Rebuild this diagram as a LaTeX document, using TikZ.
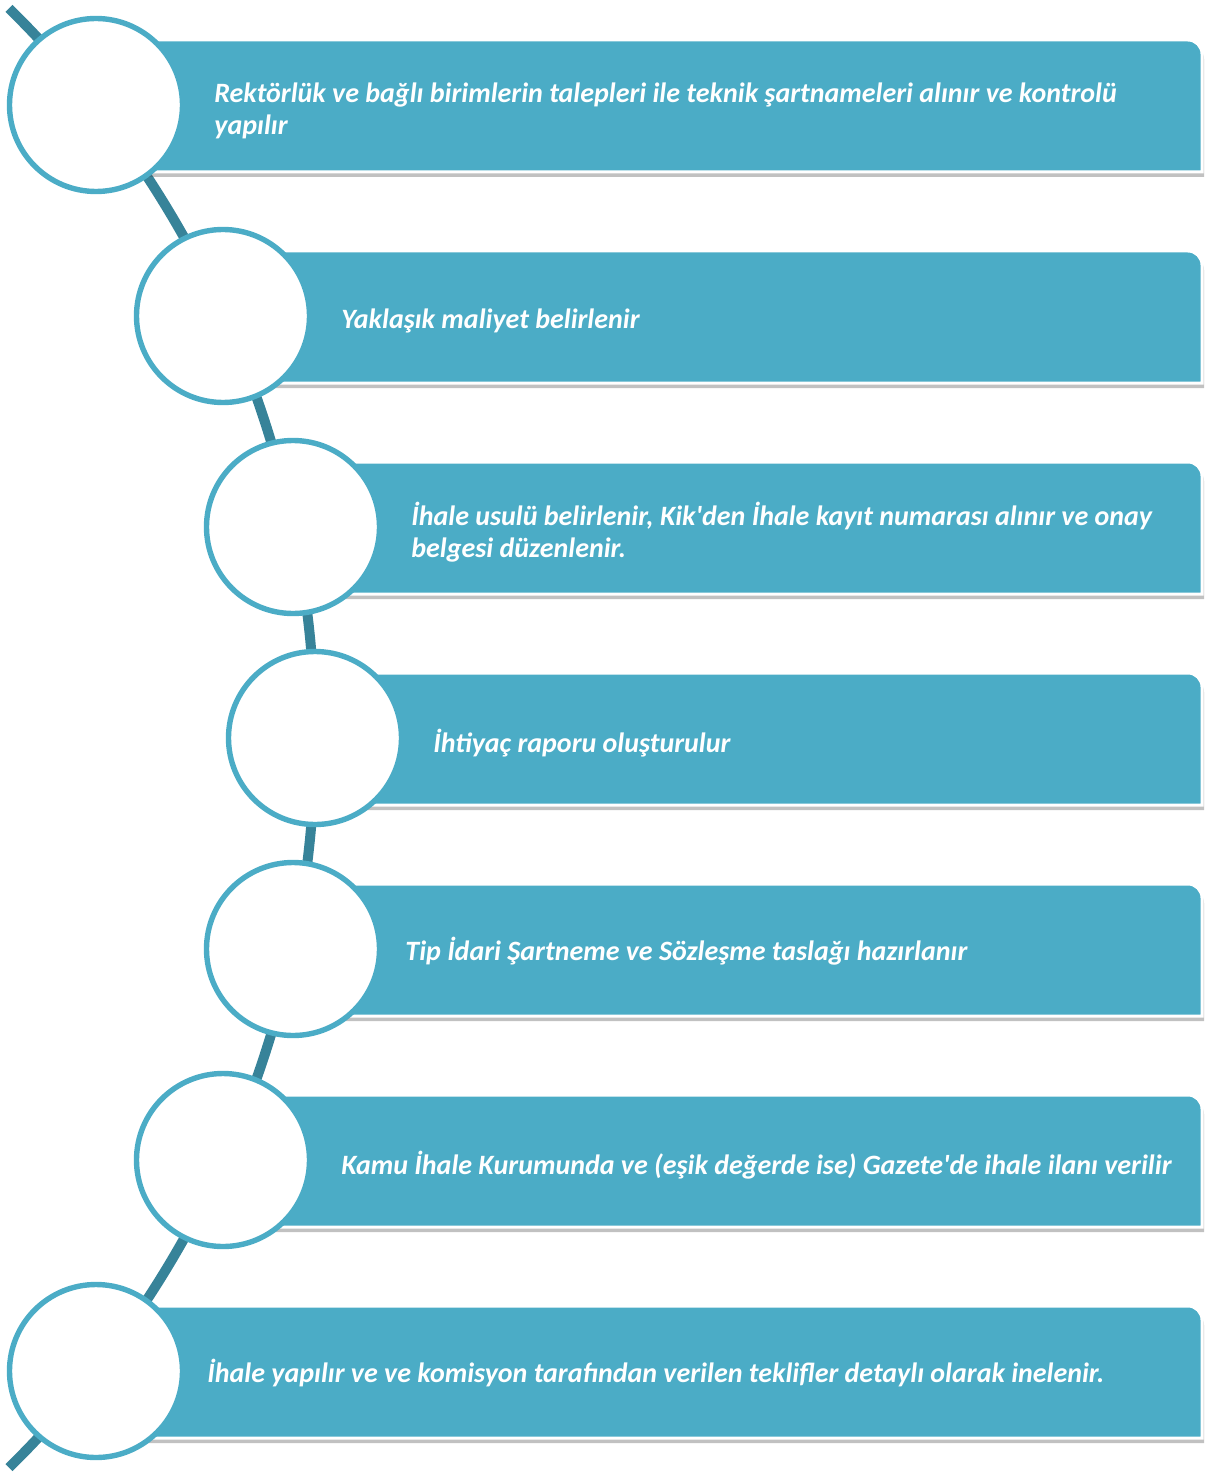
\documentclass[tikz,border=0pt]{standalone}
\usepackage{fontspec}
\setmainfont{Carlito}
\usetikzlibrary{shadows}
\definecolor{barblue}{RGB}{75,172,198}
\definecolor{spineblue}{RGB}{55,131,153}
\tikzset{stage circle/.style={circle,draw=barblue,line width=2.7pt,fill=white,minimum size=86.5pt,inner sep=0pt},
	stage bar/.style={fill=barblue,draw=white,line width=1.5pt,drop shadow={shadow xshift=1pt,shadow yshift=-2.5pt,opacity=.35,fill=black!70}},
	stage text/.style={text=white,font=\bfseries\itshape\fontsize{14}{16}\selectfont,align=left,anchor=west,inner sep=0pt},
	spine/.style={draw=spineblue,line width=5pt},}

\begin{document}
\begin{tikzpicture}[x=0.5pt,y=-0.5pt]
	\useasboundingbox (0,0) rectangle (1214,1476);
	% arc behind the circles
	\coordinate (hub) at (-708,738);
	\draw[spine] (hub) ++(45.5:511.5pt) arc[start angle=45.5,end angle=-45.5,radius=511.5pt];

	% bars
	\path[stage bar] (96,40) -- (1188,40) arc[start angle=90,end angle=0,radius=7pt] -- (1202,172) -- (96,172) -- cycle;
	\path[stage bar] (223,251) -- (1188,251) arc[start angle=90,end angle=0,radius=7pt] -- (1202,383) -- (223,383) -- cycle;
	\path[stage bar] (293,462) -- (1188,462) arc[start angle=90,end angle=0,radius=7pt] -- (1202,594) -- (293,594) -- cycle;
	\path[stage bar] (315,673) -- (1188,673) arc[start angle=90,end angle=0,radius=7pt] -- (1202,805) -- (315,805) -- cycle;
	\path[stage bar] (293,884) -- (1188,884) arc[start angle=90,end angle=0,radius=7pt] -- (1202,1016) -- (293,1016) -- cycle;
	\path[stage bar] (223,1095) -- (1188,1095) arc[start angle=90,end angle=0,radius=7pt] -- (1202,1227) -- (223,1227) -- cycle;
	\path[stage bar] (96,1306) -- (1188,1306) arc[start angle=90,end angle=0,radius=7pt] -- (1202,1438) -- (96,1438) -- cycle;

	% circles
	\node[stage circle] (c1) at (96,105) {};
	\node[stage circle] (c2) at (223,316) {};
	\node[stage circle] (c3) at (293,527) {};
	\node[stage circle] (c4) at (315,738) {};
	\node[stage circle] (c5) at (293,949) {};
	\node[stage circle] (c6) at (223,1160) {};
	\node[stage circle] (c7) at (96,1371) {};

	% texts
	\node[stage text] (t1) at (214,111) {Rektörlük ve bağlı birimlerin talepleri ile teknik şartnameleri alınır ve kontrolü\\yapılır};
	\node[stage text] (t2) at (341,321) {Yaklaşık maliyet belirlenir};
	\node[stage text] (t3) at (411,532) {İhale usulü belirlenir, Kik\textquotesingle den İhale kayıt numarası alınır ve onay\\belgesi düzenlenir.};
	\node[stage text] (t4) at (433,743) {İhtiyaç raporu oluşturulur};
	\node[stage text] (t5) at (405,951) {Tip İdari Şartneme ve Sözleşme taslağı hazırlanır};
	\node[stage text] (t6) at (341,1165) {Kamu İhale Kurumunda ve (eşik değerde ise) Gazete\textquotesingle de ihale ilanı verilir};
	\node[stage text] (t7) at (207,1373) {İhale yapılır ve ve komisyon tarafından verilen teklifler detaylı olarak inelenir.};
\end{tikzpicture}
\end{document}
